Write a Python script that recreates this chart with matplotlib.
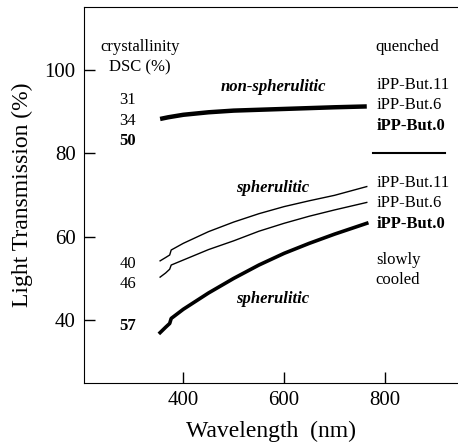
import matplotlib.pyplot as plt

plt.rcParams['font.family'] = ['Liberation Serif', 'DejaVu Serif']

# quenched (non-spherulitic) curves, all three nearly coincide
wl_q = [354, 370, 400, 450, 500, 600, 700, 764]
t_q = [88.2, 88.6, 89.2, 89.8, 90.2, 90.6, 91.0, 91.2]

# slowly cooled (spherulitic)
wl_s = [354, 365, 373, 376, 400, 450, 500, 550, 600, 650, 700, 764]
t_but11 = [54.2, 55.0, 55.6, 56.8, 58.4, 61.2, 63.5, 65.5, 67.2, 68.6, 69.9, 72.0]
t_but6 = [50.3, 51.3, 52.2, 53.2, 54.4, 56.9, 59.0, 61.3, 63.2, 64.9, 66.4, 68.2]
t_but0 = [37.0, 38.3, 39.2, 40.4, 42.6, 46.5, 50.0, 53.2, 56.0, 58.4, 60.6, 63.2]

fig = plt.figure(figsize=(4.58, 4.44), dpi=100)
ax = fig.add_axes([0.1834, 0.138, 0.8166, 0.846])

ax.plot(wl_q, t_q, color='black', lw=3.2, solid_capstyle='butt')
ax.plot(wl_s, t_but11, color='black', lw=1.0)
ax.plot(wl_s, t_but6, color='black', lw=1.0)
ax.plot(wl_s, t_but0, color='black', lw=2.6)
ax.plot([776, 919], [80, 80], color='black', lw=1.5)

ax.set_xlim(203, 945)
ax.set_ylim(25, 115)
ax.set_xticks([400, 600, 800])
ax.set_yticks([40, 60, 80, 100])
ax.tick_params(direction='in', length=8, width=1, labelsize=15, pad=6)
ax.spines['right'].set_visible(False)
ax.set_xlabel('Wavelength  (nm)', fontsize=17, labelpad=8)
ax.set_ylabel('Light Transmission (%)', fontsize=17, labelpad=8)

fs = 12
ax.text(314, 105.5, 'crystallinity', fontsize=fs, ha='center', va='center')
ax.text(314, 100.5, 'DSC (%)', fontsize=fs, ha='center', va='center')
ax.text(290, 92.8, '31', fontsize=fs, ha='center', va='center')
ax.text(290, 87.8, '34', fontsize=fs, ha='center', va='center')
ax.text(290, 83.0, '50', fontsize=fs, ha='center', va='center', weight='bold')
ax.text(290, 53.4, '40', fontsize=fs, ha='center', va='center')
ax.text(290, 48.6, '46', fontsize=fs, ha='center', va='center')
ax.text(290, 38.6, '57', fontsize=fs, ha='center', va='center', weight='bold')

ax.text(578, 95.9, 'non-spherulitic', fontsize=fs, ha='center', va='center',
        style='italic', weight='bold')
ax.text(578, 71.7, 'spherulitic', fontsize=fs, ha='center', va='center',
        style='italic', weight='bold')
ax.text(578, 45.0, 'spherulitic', fontsize=fs, ha='center', va='center',
        style='italic', weight='bold')

ax.text(782, 105.5, 'quenched', fontsize=fs, ha='left', va='center')
ax.text(784, 96.4, 'iPP-But.11', fontsize=fs, ha='left', va='center')
ax.text(784, 91.6, 'iPP-But.6', fontsize=fs, ha='left', va='center')
ax.text(784, 86.6, 'iPP-But.0', fontsize=fs, ha='left', va='center', weight='bold')
ax.text(784, 72.9, 'iPP-But.11', fontsize=fs, ha='left', va='center')
ax.text(784, 68.1, 'iPP-But.6', fontsize=fs, ha='left', va='center')
ax.text(784, 63.0, 'iPP-But.0', fontsize=fs, ha='left', va='center', weight='bold')
ax.text(782, 54.4, 'slowly', fontsize=fs, ha='left', va='center')
ax.text(782, 49.6, 'cooled', fontsize=fs, ha='left', va='center')

fig.savefig('out.png', dpi=100)
